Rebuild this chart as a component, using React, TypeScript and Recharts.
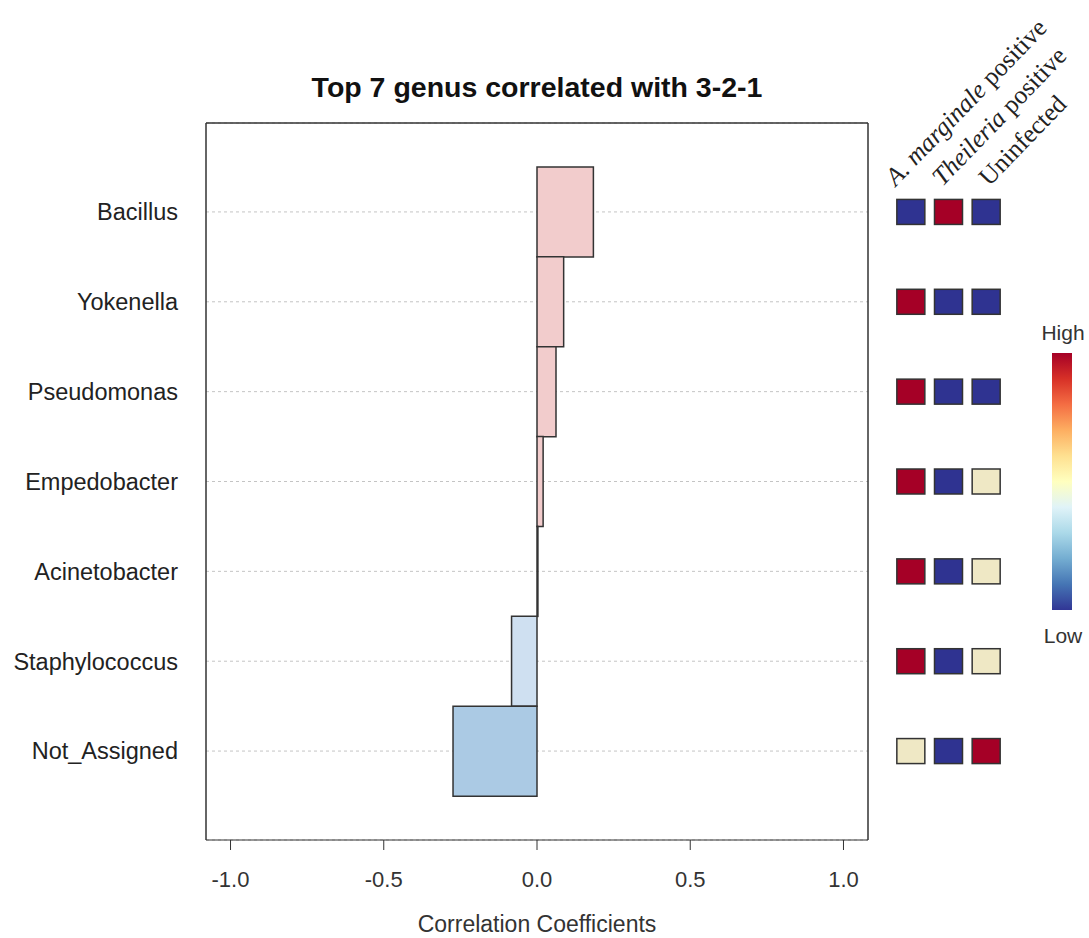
import React from "react";
import {
  BarChart,
  Bar,
  Cell,
  XAxis,
  YAxis,
  CartesianGrid,
  ScatterChart,
  Scatter,
} from "recharts";

// genera, top to bottom
const genera = [
  "Bacillus",
  "Yokenella",
  "Pseudomonas",
  "Empedobacter",
  "Acinetobacter",
  "Staphylococcus",
  "Not_Assigned",
];
const correlations = [0.184, 0.087, 0.062, 0.02, 0.003, -0.083, -0.274];
const barColors = ["#f2cccc", "#f2cccc", "#f2cccc", "#f2cccc", "#f2cccc", "#cfe0f1", "#abcae4"];
const xTicks = [-1, -0.5, 0, 0.5, 1];

// heatmap groups and levels (1 = high, 0 = low, 0.5 = middle)
const groups = ["A. marginale positive", "Theileria positive", "Uninfected"];
const aMarginale = [0, 1, 1, 1, 1, 1, 0.5];
const theileria = [1, 0, 0, 0, 0, 0, 0];
const uninfected = [0, 0, 0, 0.5, 0.5, 0.5, 1];

const barData = genera.map((genus, i) => ({ genus, value: correlations[i] }));
const levels = [aMarginale, theileria, uninfected];
const heatData = genera.flatMap((genus, i) =>
  groups.map((group, g) => ({ genus, group, level: levels[g][i] }))
);

const levelColor = (v: number) => (v >= 0.75 ? "#a50026" : v <= 0.25 ? "#2f3391" : "#efe8c5");

const SANS = "'Liberation Sans', Arial, Helvetica, sans-serif";
const SERIF = "'Liberation Serif', 'Times New Roman', serif";
const INK = "#333";

const HeatCell = (props: any) => {
  const { cx, cy, payload } = props;
  return (
    <rect
      x={cx - 14}
      y={cy - 12.5}
      width={28}
      height={25}
      fill={levelColor(payload.level)}
      stroke={INK}
      strokeWidth={1.5}
    />
  );
};

// rotated column labels, spread a little wider than the columns like the original
const GroupTick = (props: any) => {
  const { x, y, payload, index } = props;
  const label: string = payload.value;
  const italic = label.endsWith(" positive") ? label.replace(" positive", "") : "";
  const rest = italic ? " positive" : label;
  return (
    <text
      transform={`translate(${x - 15 + (index || 0) * 9},${y + 64}) rotate(-46)`}
      fontFamily={SERIF}
      fontSize={25.5}
      fill="#222"
      textAnchor="start"
    >
      {italic && <tspan fontStyle="italic">{italic}</tspan>}
      <tspan>{rest}</tspan>
    </text>
  );
};

const gradientStops = [
  "#a50026", "#d73027", "#f46d43", "#fdae61", "#fee090",
  "#ffffbf", "#e0f3f8", "#abd9e9", "#74add1", "#4575b4", "#313695",
];

export default function App() {
  return (
    <div style={{ position: "absolute", left: 0, top: 0, width: 1089, height: 938, background: "#fff" }}>
      <div style={{ position: "absolute", left: 0, top: 0 }}>
        <BarChart
          width={880}
          height={938}
          data={barData}
          layout="vertical"
          margin={{ top: 0, right: 0, bottom: 0, left: 0 }}
          barCategoryGap={0}
        >
          <CartesianGrid vertical={false} stroke="#c4c4c4" strokeDasharray="3 3" />
          <XAxis
            type="number"
            domain={[-1.08, 1.08]}
            allowDataOverflow
            ticks={xTicks}
            tickFormatter={(v: number) => v.toFixed(1)}
            height={98}
            tickSize={10}
            tickMargin={21}
            stroke={INK}
            tick={{ fill: INK, fontSize: 22, fontFamily: SANS }}
            label={{
              value: "Correlation Coefficients",
              position: "insideBottom",
              offset: 6,
              fill: INK,
              fontSize: 23,
              fontFamily: SANS,
            }}
          />
          <XAxis
            xAxisId="top"
            orientation="top"
            type="number"
            domain={[-1.08, 1.08]}
            height={123}
            tick={false}
            tickLine={false}
            stroke={INK}
            strokeWidth={1.5}
          />
          <YAxis
            type="category"
            dataKey="genus"
            width={206}
            padding={{ top: 44, bottom: 44 }}
            tickLine={false}
            tickSize={0}
            tickMargin={28}
            stroke={INK}
            strokeWidth={1.5}
            tick={{ fill: "#222", fontSize: 23.5, fontFamily: SANS }}
          />
          <YAxis
            yAxisId="right"
            orientation="right"
            type="category"
            dataKey="genus"
            width={12}
            tick={false}
            tickLine={false}
            stroke={INK}
            strokeWidth={1.5}
          />
          <Bar dataKey="value" stroke={INK} strokeWidth={1.5} isAnimationActive={false}>
            {barData.map((d, i) => (
              <Cell key={d.genus} fill={barColors[i]} />
            ))}
          </Bar>
        </BarChart>
      </div>

      <div style={{ position: "absolute", left: 880, top: 0 }}>
        <ScatterChart
          width={209}
          height={938}
          margin={{ top: 0, right: 84, bottom: 98, left: 12 }}
          style={{ overflow: "visible" }}
        >
          <XAxis
            type="category"
            dataKey="group"
            orientation="top"
            allowDuplicatedCategory={false}
            height={123}
            axisLine={false}
            tickLine={false}
            tickSize={0}
            tickMargin={0}
            interval={0}
            tick={<GroupTick />}
          />
          <YAxis
            type="category"
            dataKey="genus"
            allowDuplicatedCategory={false}
            reversed
            hide
            padding={{ top: 44, bottom: 44 }}
          />
          <Scatter data={heatData} shape={<HeatCell />} isAnimationActive={false} />
        </ScatterChart>
      </div>

      <svg
        width={1089}
        height={938}
        style={{ position: "absolute", left: 0, top: 0, pointerEvents: "none" }}
      >
        <defs>
          <linearGradient id="rdylbu" x1="0" y1="0" x2="0" y2="1">
            {gradientStops.map((c, i) => (
              <stop key={c} offset={`${(i / (gradientStops.length - 1)) * 100}%`} stopColor={c} />
            ))}
          </linearGradient>
        </defs>
        <text x={537} y={97} textAnchor="middle" fontFamily={SANS} fontWeight="bold" fontSize={28.5} fill="#111">
          Top 7 genus correlated with 3-2-1
        </text>
        <rect x={1052} y={353} width={20} height={257} fill="url(#rdylbu)" />
        <text x={1063} y={340} textAnchor="middle" fontFamily={SANS} fontSize={21} fill={INK}>
          High
        </text>
        <text x={1063} y={643} textAnchor="middle" fontFamily={SANS} fontSize={21} fill={INK}>
          Low
        </text>
      </svg>
    </div>
  );
}
